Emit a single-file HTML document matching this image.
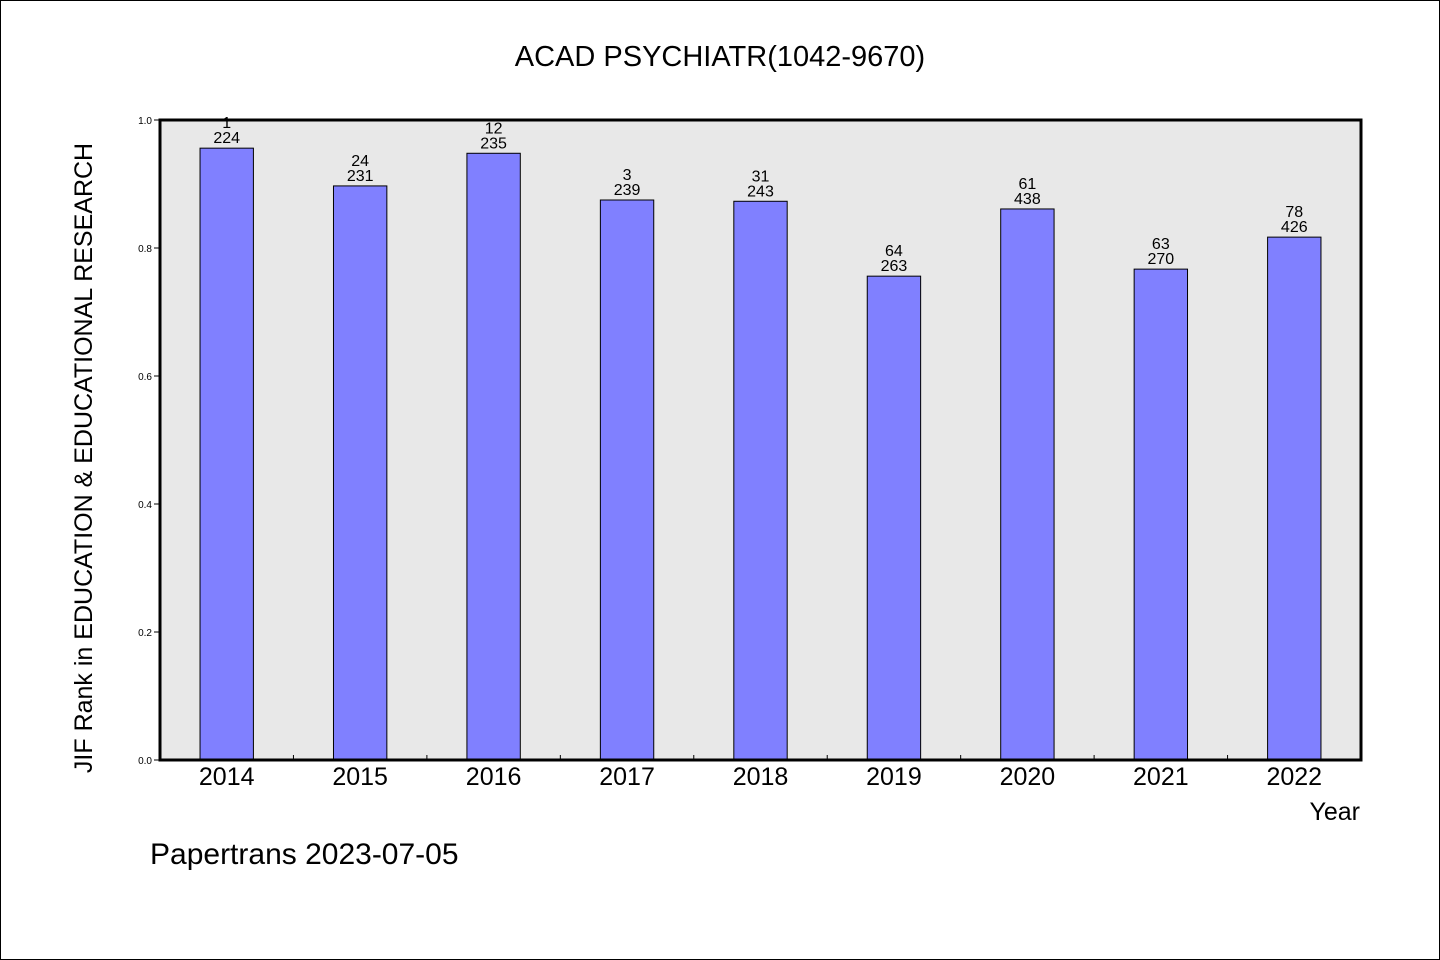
<!DOCTYPE html>
<html><head><meta charset="utf-8"><style>
body{margin:0;background:#fff}
svg{display:block}
text{font-family:"WenQuanYi Zen Hei","Liberation Sans",sans-serif;fill:#000}
</style></head><body>
<svg id="chart" width="1440" height="960" xmlns="http://www.w3.org/2000/svg">
<rect x="0.5" y="0.5" width="1439" height="959" fill="#fff" stroke="#000"/>
<text x="720" y="66" font-size="29" text-anchor="middle">ACAD PSYCHIATR(1042-9670)</text>
<rect x="160" y="120" width="1201" height="640" fill="#e8e8e8"/>
<g id="bars"></g>
<g id="axes"></g>
<rect x="160" y="120" width="1201" height="640" fill="none" stroke="#000" stroke-width="3"/>
<text x="92" y="458" font-size="25" text-anchor="middle" transform="rotate(-90 92 458)">JIF Rank in EDUCATION &amp; EDUCATIONAL RESEARCH</text>
<text x="1360" y="820" font-size="25" text-anchor="end">Year</text>
<text x="150" y="864" font-size="30">Papertrans 2023-07-05</text>
</svg>
<script>
const categories=["2014","2015","2016","2017","2018","2019","2020","2021","2022"];
const values=[0.956,0.897,0.948,0.875,0.873,0.756,0.861,0.767,0.817];
const ranks=["1","24","12","3","31","64","61","63","78"];
const totals=["224","231","235","239","243","263","438","270","426"];
const yTicks=[0,0.2,0.4,0.6,0.8,1.0];
const yTickLabels=["0.0","0.2","0.4","0.6","0.8","1.0"];
const NS="http://www.w3.org/2000/svg";
const X0=160,X1=1361,Y0=760,Y1=120;
const band=(X1-X0)/categories.length;
const xC=i=>X0+band*(i+0.5);
const y=v=>Y0-(Y0-Y1)*v;
function mk(t,a,p){const e=document.createElementNS(NS,t);for(const k in a)e.setAttribute(k,a[k]);p.appendChild(e);return e;}
const gb=document.getElementById('bars'),ga=document.getElementById('axes');
categories.forEach((c,i)=>{
 const bw=band*0.4;
 const r=mk('rect',{x:xC(i)-bw/2,y:y(values[i]),width:bw,height:Y0-y(values[i]),fill:'#8080ff',stroke:'#000','stroke-width':1},gb);
 
 
 const t1=mk('text',{x:xC(i),y:y(values[i])-20,'font-size':16,'text-anchor':'middle'},gb);t1.textContent=ranks[i];
 
 
 const t2=mk('text',{x:xC(i),y:y(values[i])-5,'font-size':16,'text-anchor':'middle'},gb);t2.textContent=totals[i];
 
 
 const xl=mk('text',{x:xC(i),y:785,'font-size':25,'text-anchor':'middle'},ga);xl.textContent=c;
 
 
 if(i>0){const tk=mk('line',{x1:X0+band*i,x2:X0+band*i,y1:Y0,y2:Y0-5,stroke:'#000'},ga);
 
 }
});
yTicks.forEach((v,i)=>{
 const tk=mk('line',{x1:X0-6,x2:X0,y1:y(v),y2:y(v),stroke:'#000'},ga);
 
 
 const t=mk('text',{x:X0-8,y:y(v)+4,'font-size':10,'text-anchor':'end'},ga);t.textContent=yTickLabels[i];
 
 
});
</script>
</body></html>
